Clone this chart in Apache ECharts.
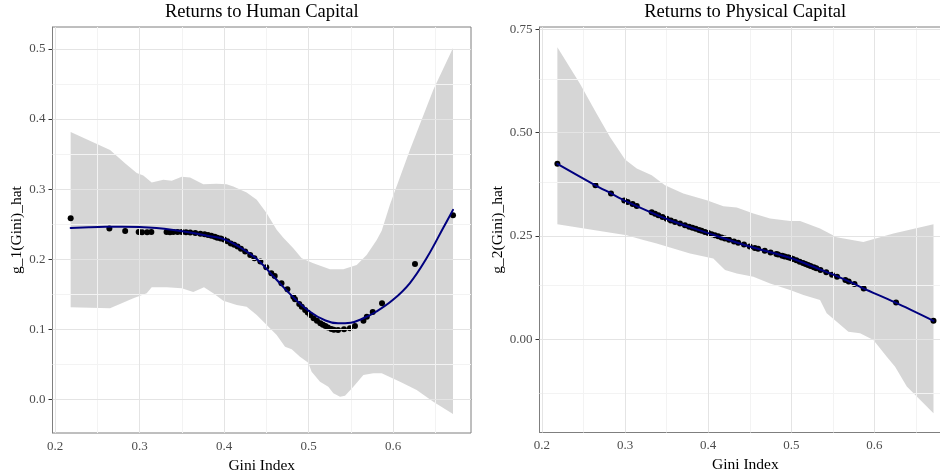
<!DOCTYPE html>
<html>
<head>
<meta charset="utf-8">
<script src="https://cdn.jsdelivr.net/npm/echarts@6.0.0/dist/echarts.min.js"></script>
<style>html,body{margin:0;padding:0;background:#fff;}#chart{width:940px;height:471px;}</style>
</head>
<body>
<div id="chart"></div>
<script>
// ---- data ----
const panelTitles = ['Returns to Human Capital', 'Returns to Physical Capital'];
const xAxisTitle = 'Gini Index';
const yAxisTitles = ['g_1(Gini)_hat', 'g_2(Gini)_hat'];

const xTicks = [0.2, 0.3, 0.4, 0.5, 0.6];
const xMinorTicks = [0.25, 0.35, 0.45, 0.55, 0.65];
const y1Ticks = [0.0, 0.1, 0.2, 0.3, 0.4, 0.5];
const y1MinorTicks = [0.05, 0.15, 0.25, 0.35, 0.45];
const y2Ticks = [0.0, 0.25, 0.5, 0.75];
const y2MinorTicks = [-0.125, 0.125, 0.375, 0.625];

const giniIndex = [0.2185, 0.2643, 0.283, 0.299, 0.303, 0.309, 0.314, 0.332, 0.336, 0.340,
  0.345, 0.350, 0.355, 0.360, 0.366, 0.372, 0.377, 0.381, 0.385, 0.389,
  0.392, 0.396, 0.400, 0.404, 0.408, 0.412, 0.416, 0.420, 0.425, 0.431,
  0.436, 0.443, 0.450, 0.456, 0.460, 0.468, 0.475, 0.482, 0.484, 0.489,
  0.492, 0.496, 0.499, 0.502, 0.506, 0.510, 0.514, 0.517, 0.520, 0.523,
  0.527, 0.530, 0.535, 0.542, 0.549, 0.555, 0.565, 0.569, 0.576, 0.587,
  0.626, 0.671];

const g1Hat = [0.2586, 0.2437, 0.2404, 0.2388, 0.2386, 0.2386, 0.2388, 0.2388, 0.2386, 0.2390,
  0.2390, 0.2388, 0.2385, 0.2380, 0.2373, 0.2365, 0.2357, 0.2345, 0.2335, 0.2320,
  0.2305, 0.2295, 0.2280, 0.2255, 0.2225, 0.2205, 0.2180, 0.2150, 0.2110, 0.2060,
  0.2015, 0.1966, 0.1886, 0.1800, 0.1760, 0.1657, 0.1570, 0.1466, 0.1430, 0.1360,
  0.1323, 0.1276, 0.1240, 0.1204, 0.1157, 0.1123, 0.1086, 0.1065, 0.1047, 0.1025,
  0.1005, 0.0995, 0.0990, 0.1000, 0.1014, 0.1047, 0.1123, 0.1180, 0.1247, 0.1371,
  0.1933, 0.2629];

const g2Hat = [0.4245, 0.3727, 0.3530, 0.3359, 0.3324, 0.3272, 0.3228, 0.3072, 0.3037, 0.3002,
  0.2958, 0.2915, 0.2873, 0.2840, 0.2800, 0.2760, 0.2726, 0.2700, 0.2673, 0.2646,
  0.2626, 0.2599, 0.2570, 0.2544, 0.2518, 0.2492, 0.2466, 0.2440, 0.2408, 0.2369,
  0.2336, 0.2291, 0.2245, 0.2211, 0.2188, 0.2143, 0.2103, 0.2063, 0.2051, 0.2023,
  0.2006, 0.1983, 0.1966, 0.1944, 0.1912, 0.1879, 0.1847, 0.1822, 0.1798, 0.1774,
  0.1741, 0.1717, 0.1676, 0.1620, 0.1563, 0.1515, 0.1434, 0.1401, 0.1339, 0.1232,
  0.0892, 0.0448];

// fitted curves [gini, value]
const g1Fit = [[0.2185,0.2445],[0.24,0.2455],[0.26,0.2462],[0.28,0.2465],[0.30,0.2460],[0.32,0.2445],
  [0.34,0.2418],[0.36,0.2382],[0.38,0.2335],[0.40,0.2285],[0.42,0.2160],[0.44,0.1990],[0.46,0.1735],
  [0.48,0.1480],[0.50,0.1265],[0.52,0.1125],[0.535,0.1086],[0.55,0.1095],[0.565,0.1157],[0.58,0.1250],
  [0.60,0.1420],[0.62,0.1660],[0.64,0.2020],[0.66,0.2460],[0.671,0.2704]];
const g2Fit = [[0.2185,0.4245],[0.2643,0.3727],[0.283,0.3530],[0.30,0.3350],[0.354,0.2880],[0.40,0.2570],
  [0.45,0.2245],[0.50,0.1960],[0.5345,0.1690],[0.5546,0.1530],[0.5746,0.1353],[0.5866,0.1232],
  [0.6248,0.0894],[0.671,0.0448]];

// confidence bands [gini, value]
const g1Upper = [[0.2185,0.3814],[0.2651,0.3560],[0.2828,0.3370],[0.2967,0.3229],[0.3045,0.3194],[0.3144,0.3094],
  [0.3282,0.3133],[0.3381,0.3119],[0.3499,0.3176],[0.3598,0.3166],[0.3755,0.3071],[0.3913,0.3076],
  [0.4031,0.3071],[0.4110,0.3037],[0.4268,0.2951],[0.4387,0.2847],[0.4505,0.2657],[0.4623,0.2419],
  [0.4702,0.2305],[0.4820,0.2157],[0.4919,0.2014],[0.5057,0.1943],[0.5254,0.1857],[0.5412,0.1857],
  [0.5570,0.1919],[0.5688,0.2061],[0.5807,0.2276],[0.5866,0.2405],[0.5964,0.2780],[0.6201,0.3561],
  [0.6477,0.4419],[0.671,0.5014]];
const g1Lower = [[0.2185,0.1314],[0.2651,0.1300],[0.2927,0.1443],[0.3085,0.1514],[0.3144,0.1600],[0.3321,0.1600],
  [0.3499,0.1586],[0.3636,0.1533],[0.3763,0.1600],[0.3873,0.1514],[0.3992,0.1409],[0.4150,0.1347],
  [0.4268,0.1323],[0.4387,0.1204],[0.4505,0.1061],[0.4623,0.0919],[0.4722,0.0751],[0.4801,0.0714],
  [0.4899,0.0609],[0.4997,0.0523],[0.5037,0.0394],[0.5136,0.0251],[0.5234,0.0180],[0.5294,0.0086],
  [0.5373,0.0037],[0.5432,0.0051],[0.5531,0.0180],[0.5649,0.0347],[0.5767,0.0371],[0.5866,0.0371],
  [0.6083,0.0251],[0.6280,0.0133],[0.6477,-0.0034],[0.671,-0.0210]];
const g2Upper = [[0.2185,0.7068],[0.2457,0.6184],[0.2658,0.5459],[0.2818,0.4894],[0.2999,0.4348],[0.3140,0.4130],
  [0.3320,0.3969],[0.3480,0.3727],[0.3700,0.3527],[0.3982,0.3365],[0.4182,0.3220],[0.4343,0.3188],
  [0.4543,0.3043],[0.4744,0.2923],[0.4984,0.2865],[0.5105,0.2865],[0.5345,0.2681],[0.5546,0.2470],
  [0.5866,0.2357],[0.6228,0.2560],[0.671,0.2785]];
const g2Lower = [[0.2185,0.2785],[0.2658,0.2630],[0.3019,0.2519],[0.3220,0.2400],[0.3380,0.2319],[0.3781,0.2077],
  [0.4061,0.1957],[0.4202,0.1674],[0.4343,0.1594],[0.4543,0.1512],[0.4744,0.1353],[0.4984,0.1191],
  [0.5145,0.1070],[0.5345,0.0950],[0.5425,0.0628],[0.5546,0.0425],[0.5686,0.0184],[0.5827,0.0145],
  [0.5987,-0.0017],[0.6148,-0.0420],[0.6248,-0.0662],[0.6389,-0.1145],[0.671,-0.1787]];

// ---- chart ----
const FONT = 'Liberation Serif';
const chart = echarts.init(document.getElementById('chart'), null, {renderer: 'canvas'});

function bandSeries(idx, upper, lower) {
  return {
    type: 'custom', xAxisIndex: idx, yAxisIndex: idx, z: 2, silent: true, clip: true,
    data: [[0.4, 0.2]],
    renderItem: function (params, api) {
      const pts = upper.map(p => api.coord(p)).concat(lower.slice().reverse().map(p => api.coord(p)));
      return {type: 'polygon', shape: {points: pts}, style: {fill: 'rgba(153,153,153,0.4)', stroke: null}};
    }
  };
}
function gridLineSeries(idx, xs, ys, color, width, z) {
  return {
    type: 'line', xAxisIndex: idx, yAxisIndex: idx, z: z, silent: true, symbol: 'none',
    data: [], lineStyle: {width: 0},
    markLine: {
      silent: true, symbol: ['none', 'none'], animation: false, label: {show: false},
      lineStyle: {color: color, width: width, type: 'solid'},
      emphasis: {disabled: true},
      data: xs.map(v => ({xAxis: v})).concat(ys.map(v => ({yAxis: v})))
    }
  };
}
function xAx(idx) {
  return {
    type: 'value', gridIndex: idx, min: 0.197, max: 0.6923,
    name: xAxisTitle, nameLocation: 'middle', nameGap: 18,
    nameTextStyle: {fontFamily: FONT, fontSize: 15.5, color: '#000'},
    axisLine: {show: true, lineStyle: {color: '#7f7f7f', width: 1}},
    axisTick: {show: true, length: 4, lineStyle: {color: '#333'}, customValues: xTicks},
    axisLabel: {show: true, customValues: xTicks, margin: 7, fontFamily: FONT, fontSize: 13, color: '#4d4d4d',
      formatter: v => v.toFixed(1)},
    splitLine: {show: false}
  };
}
function yAx(idx, min, max, ticks, digits, gap) {
  return {
    type: 'value', gridIndex: idx, min: min, max: max,
    name: yAxisTitles[idx], nameLocation: 'middle', nameGap: gap, nameRotate: 90,
    nameTextStyle: {fontFamily: FONT, fontSize: 15.5, color: '#000'},
    axisLine: {show: true, lineStyle: {color: '#7f7f7f', width: 1}},
    axisTick: {show: true, length: 4, lineStyle: {color: '#333'}, customValues: ticks},
    axisLabel: {show: true, customValues: ticks, margin: 7, fontFamily: FONT, fontSize: 13, color: '#4d4d4d',
      formatter: v => v.toFixed(digits)},
    splitLine: {show: false}
  };
}

const option = {
  animation: false,
  backgroundColor: '#fff',
  title: [
    {text: panelTitles[0], left: 261.75, top: 3, padding: 0, textAlign: 'center',
      textStyle: {fontFamily: FONT, fontSize: 18.5, fontWeight: 'normal', color: '#000'}},
    {text: panelTitles[1], left: 745.2, top: 3, padding: 0, textAlign: 'center',
      textStyle: {fontFamily: FONT, fontSize: 18.5, fontWeight: 'normal', color: '#000'}}
  ],
  grid: [
    {left: 52.5, top: 27, width: 418.5, height: 406, outerBoundsMode: 'none', containLabel: false,
      show: true, borderColor: '#7f7f7f', borderWidth: 1, backgroundColor: 'transparent'},
    {left: 539.5, top: 27, width: 411.7, height: 405.5, outerBoundsMode: 'none', containLabel: false,
      show: true, borderColor: '#7f7f7f', borderWidth: 1, backgroundColor: 'transparent'}
  ],
  xAxis: [xAx(0), xAx(1)],
  yAxis: [yAx(0, -0.048, 0.5314, y1Ticks, 1, 26), yAx(1, -0.2255, 0.7556, y2Ticks, 2, 32)],
  series: [
    gridLineSeries(0, xMinorTicks, y1MinorTicks, '#f3f3f3', 1, 0),
    gridLineSeries(0, xTicks, y1Ticks, '#e4e4e4', 1, 1),
    gridLineSeries(1, xMinorTicks, y2MinorTicks, '#f3f3f3', 1, 0),
    gridLineSeries(1, xTicks, y2Ticks, '#e4e4e4', 1, 1),
    bandSeries(0, g1Upper, g1Lower),
    bandSeries(1, g2Upper, g2Lower),
    {type: 'scatter', xAxisIndex: 0, yAxisIndex: 0, z: 3, symbolSize: 6, silent: true,
      itemStyle: {color: '#000', opacity: 1}, data: giniIndex.map((g, i) => [g, g1Hat[i]])},
    {type: 'scatter', xAxisIndex: 1, yAxisIndex: 1, z: 3, symbolSize: 6, silent: true,
      itemStyle: {color: '#000', opacity: 1}, data: giniIndex.map((g, i) => [g, g2Hat[i]])},
    {type: 'line', xAxisIndex: 0, yAxisIndex: 0, z: 5, symbol: 'none', showSymbol: false, smooth: 0.4, silent: true,
      lineStyle: {color: '#00007f', width: 2, type: 'solid', cap: 'round', join: 'round'}, data: g1Fit},
    {type: 'line', xAxisIndex: 1, yAxisIndex: 1, z: 5, symbol: 'none', showSymbol: false, smooth: 0.3, silent: true,
      lineStyle: {color: '#00007f', width: 2, type: 'solid', cap: 'round', join: 'round'}, data: g2Fit}
  ]
};
chart.setOption(option);
</script>
</body>
</html>
